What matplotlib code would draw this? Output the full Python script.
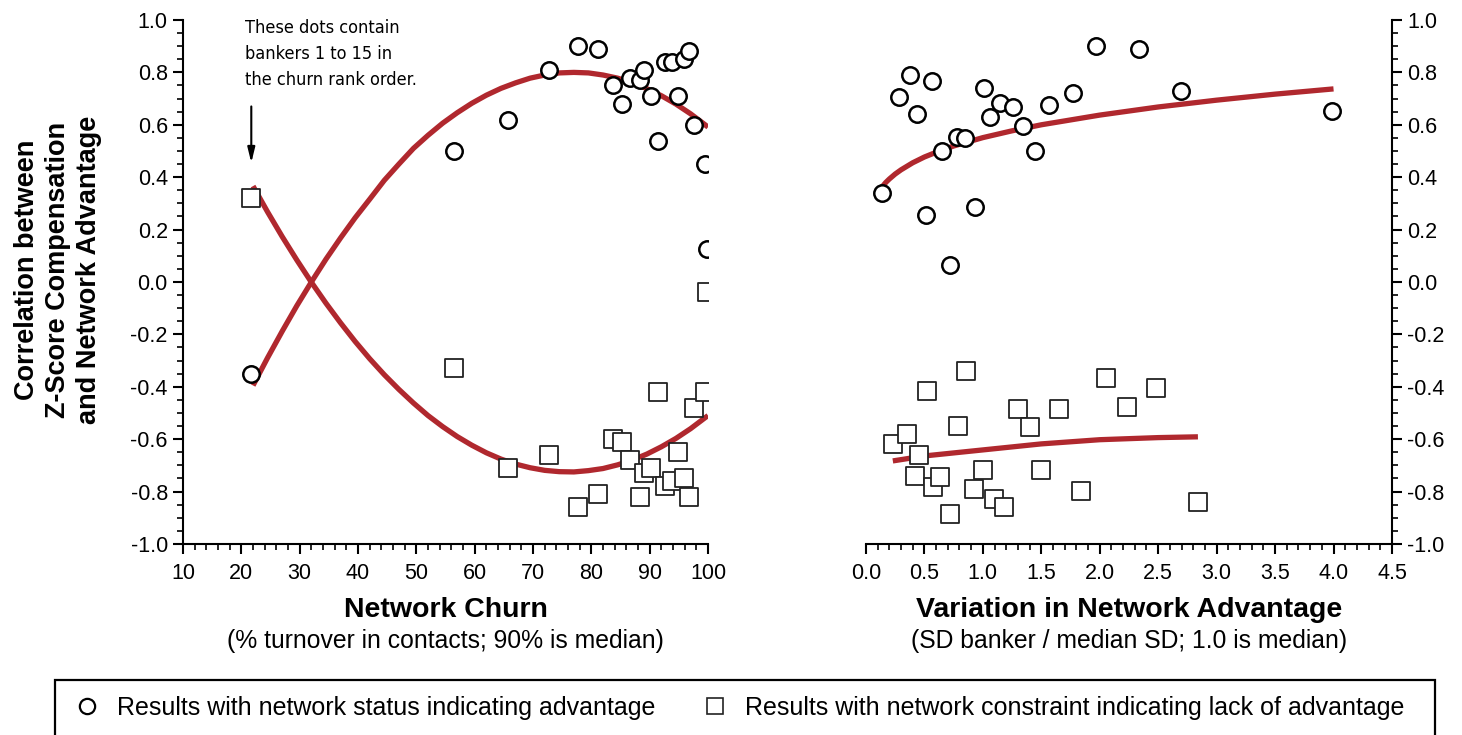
import numpy as np
import matplotlib
matplotlib.use("Agg")
import matplotlib.pyplot as plt
from matplotlib.ticker import MultipleLocator, FormatStrFormatter
from matplotlib.lines import Line2D
from matplotlib.patches import Rectangle
from matplotlib import font_manager

plt.rcParams['font.family'] = ['Liberation Sans', 'DejaVu Sans']
plt.rcParams['axes.unicode_minus'] = False

# Left panel: network churn
churn_x = [21.7, 56.5, 65.7, 72.7, 77.7, 81.1, 83.7, 85.2, 86.7, 88.3, 89.1,
           90.2, 91.4, 92.6, 93.8, 94.9, 95.9, 96.7, 97.6, 99.5, 99.8]
churn_status = [-0.35, 0.50, 0.62, 0.81, 0.90, 0.89, 0.75, 0.68, 0.78, 0.77, 0.81,
                0.71, 0.54, 0.84, 0.84, 0.71, 0.85, 0.88, 0.60, 0.45, 0.125]
churn_constraint = [0.32, -0.33, -0.71, -0.66, -0.86, -0.81, -0.60, -0.61, -0.68, -0.82, -0.73,
                    -0.71, -0.42, -0.78, -0.76, -0.65, -0.75, -0.82, -0.48, -0.42, -0.04]

churn_fit_x = [22, 24.5, 27, 29.5, 32, 34.5, 37, 39.5, 42, 44.5, 47, 49.5, 52, 54.5, 57,
               59.5, 62, 64.5, 67, 69.5, 72, 74.5, 77, 79.5, 82, 84.5, 87, 89.5, 92, 94.5,
               97, 99.5, 100]
churn_fit_status = [-0.395, -0.289, -0.188, -0.091, 0.000, 0.087, 0.168, 0.245, 0.316, 0.388,
                    0.450, 0.510, 0.560, 0.606, 0.646, 0.682, 0.713, 0.739, 0.760, 0.778,
                    0.790, 0.798, 0.800, 0.798, 0.790, 0.778, 0.760, 0.738, 0.711, 0.679,
                    0.642, 0.600, 0.591]
churn_fit_constraint = [0.366, 0.267, 0.173, 0.084, -0.001, -0.081, -0.156, -0.227, -0.293,
                        -0.354, -0.410, -0.462, -0.510, -0.552, -0.590, -0.623, -0.652, -0.676,
                        -0.695, -0.709, -0.719, -0.724, -0.725, -0.720, -0.712, -0.698, -0.680,
                        -0.657, -0.629, -0.597, -0.560, -0.518, -0.510]

# Right panel: variation in network advantage
var_status_x = [0.139, 0.282, 0.374, 0.437, 0.512, 0.566, 0.647, 0.721, 0.781, 0.850, 0.937,
                1.006, 1.063, 1.144, 1.254, 1.344, 1.443, 1.566, 1.772, 1.972, 2.340, 2.695, 3.99]
var_status = [0.339, 0.705, 0.79, 0.641, 0.256, 0.766, 0.501, 0.064, 0.552, 0.551, 0.286,
              0.740, 0.631, 0.682, 0.669, 0.595, 0.501, 0.677, 0.720, 0.901, 0.888, 0.728, 0.652]

var_constraint_x = [0.228, 0.347, 0.521, 0.456, 0.417, 0.573, 0.635, 0.721, 0.787, 0.859, 0.925,
                    1.003, 1.093, 1.177, 1.305, 1.407, 1.494, 1.652, 1.843, 2.050, 2.236, 2.481, 2.840]
var_constraint = [-0.618, -0.580, -0.415, -0.659, -0.740, -0.784, -0.746, -0.884, -0.551, -0.339, -0.792,
                  -0.718, -0.830, -0.859, -0.483, -0.552, -0.718, -0.486, -0.797, -0.368, -0.477, -0.403, -0.840]

var_fit_status_x = [0.14, 0.17, 0.2, 0.25, 0.3, 0.4, 0.5, 0.6, 0.75, 1.0, 1.25, 1.5, 2.0,
                    2.5, 3.0, 3.5, 4.0]
var_fit_status = [0.364, 0.380, 0.393, 0.412, 0.428, 0.455, 0.477, 0.495, 0.519, 0.551, 0.577,
                  0.600, 0.637, 0.668, 0.694, 0.717, 0.737]
var_fit_constraint_x = [0.23, 0.5, 1.0, 1.5, 2.0, 2.5, 2.84]
var_fit_constraint = [-0.683, -0.664, -0.641, -0.618, -0.602, -0.594, -0.591]

curve_color = '#b0282e'
circle_kw = dict(marker='o', s=140, facecolor='white', edgecolor='black', linewidths=1.8, zorder=4)
square_kw = dict(marker='s', s=160, facecolor='white', edgecolor='#222222', linewidths=1.3, zorder=3)

# narrow face for the note, if one is around
names = {f.name for f in font_manager.fontManager.ttflist}
note_font = dict(family='Liberation Sans', fontsize=12)
if 'Liberation Sans Narrow' in names:
    note_font = dict(family='Liberation Sans Narrow', fontsize=15)
else:
    cond = [f for f in font_manager.fontManager.ttflist
            if f.name == 'DejaVu Sans' and 'Condensed' in f.fname and 'Bold' not in f.fname
            and 'Oblique' not in f.fname]
    if cond:
        note_font = dict(family='DejaVu Sans', fontstretch='condensed', fontsize=13)

fig = plt.figure(figsize=(14.62, 7.35), dpi=100)
ax1 = fig.add_axes([0.1252, 0.2599, 0.3591, 0.7129])
ax2 = fig.add_axes([0.5923, 0.2599, 0.3598, 0.7129])

for ax in (ax1, ax2):
    ax.set_ylim(-1.0, 1.0)
    ax.yaxis.set_major_locator(MultipleLocator(0.2))
    ax.yaxis.set_minor_locator(MultipleLocator(0.05))
    ax.yaxis.set_major_formatter(FormatStrFormatter('%.1f'))
    ax.spines['top'].set_visible(False)
    for s in ('left', 'right', 'bottom'):
        ax.spines[s].set_linewidth(1.5)
    ax.tick_params(which='major', length=7, width=1.5, labelsize=15.5, pad=4)
    ax.tick_params(axis='x', which='major', pad=7)
    ax.tick_params(which='minor', length=4, width=1.2)

# left
ax1.spines['right'].set_visible(False)
ax1.set_xlim(10, 100)
ax1.xaxis.set_major_locator(MultipleLocator(10))
ax1.xaxis.set_minor_locator(MultipleLocator(2))
ax1.plot(churn_fit_x, churn_fit_status, color=curve_color, lw=3.8, zorder=2, solid_capstyle='butt')
ax1.plot(churn_fit_x, churn_fit_constraint, color=curve_color, lw=3.8, zorder=2, solid_capstyle='butt')
ax1.scatter(churn_x, churn_constraint, **square_kw)
ax1.scatter(churn_x, churn_status, **circle_kw)
ax1.text(20.6, 1.005, "These dots contain\nbankers 1 to 15 in\nthe churn rank order.",
         va='top', ha='left', linespacing=1.6, **note_font)
ax1.annotate('', xy=(21.7, 0.455), xytext=(21.7, 0.67),
             arrowprops=dict(arrowstyle='-|>,head_length=0.9,head_width=0.22', color='black', lw=1.5,
                             shrinkA=0, shrinkB=0))
ax1.text(0.5, -0.126, "Network Churn", transform=ax1.transAxes, ha='center', va='center',
         fontsize=20.5, fontweight='bold')
ax1.text(0.5, -0.185, "(% turnover in contacts; 90% is median)", transform=ax1.transAxes,
         ha='center', va='center', fontsize=17.8)

# right
ax2.spines['left'].set_visible(False)
ax2.yaxis.tick_right()
ax2.yaxis.set_label_position('right')
ax2.set_xlim(0, 4.5)
ax2.xaxis.set_major_locator(MultipleLocator(0.5))
ax2.xaxis.set_minor_locator(MultipleLocator(0.1))
ax2.xaxis.set_major_formatter(FormatStrFormatter('%.1f'))
ax2.plot(var_fit_status_x, var_fit_status, color=curve_color, lw=3.8, zorder=2, solid_capstyle='butt')
ax2.plot(var_fit_constraint_x, var_fit_constraint, color=curve_color, lw=3.8, zorder=2, solid_capstyle='butt')
ax2.scatter(var_constraint_x, var_constraint, **square_kw)
ax2.scatter(var_status_x, var_status, **circle_kw)
ax2.text(0.5, -0.126, "Variation in Network Advantage", transform=ax2.transAxes, ha='center',
         va='center', fontsize=20.5, fontweight='bold')
ax2.text(0.5, -0.185, "(SD banker / median SD; 1.0 is median)", transform=ax2.transAxes,
         ha='center', va='center', fontsize=17.8)

fig.text(0.0397, 0.633, "Correlation between\nZ-Score Compensation\nand Network Advantage",
         rotation=90, ha='center', va='center', multialignment='center', fontsize=19.5,
         fontweight='bold', linespacing=1.25)

# legend box runs off the bottom of the figure
fig.patches.append(Rectangle((55 / 1462, -0.05), 1380 / 1462, 0.05 + 55 / 735,
                             transform=fig.transFigure, fill=False, edgecolor='black',
                             linewidth=1.6, clip_on=False))
handles = [
    Line2D([], [], ls='none', marker='o', markersize=11, markerfacecolor='white',
           markeredgecolor='black', markeredgewidth=1.6),
    Line2D([], [], ls='none', marker='s', markersize=12, markerfacecolor='white',
           markeredgecolor='#222222', markeredgewidth=1.2),
]
labels = ["Results with network status indicating advantage",
          "Results with network constraint indicating lack of advantage"]
fig.legend(handles, labels, loc='center left', bbox_to_anchor=(72 / 1462, 1 - 708 / 735),
           ncol=2, fontsize=18, frameon=False, borderpad=0, borderaxespad=0,
           handlelength=1.2, handletextpad=0.6, columnspacing=1.8)

fig.savefig('out.png', dpi=100)
